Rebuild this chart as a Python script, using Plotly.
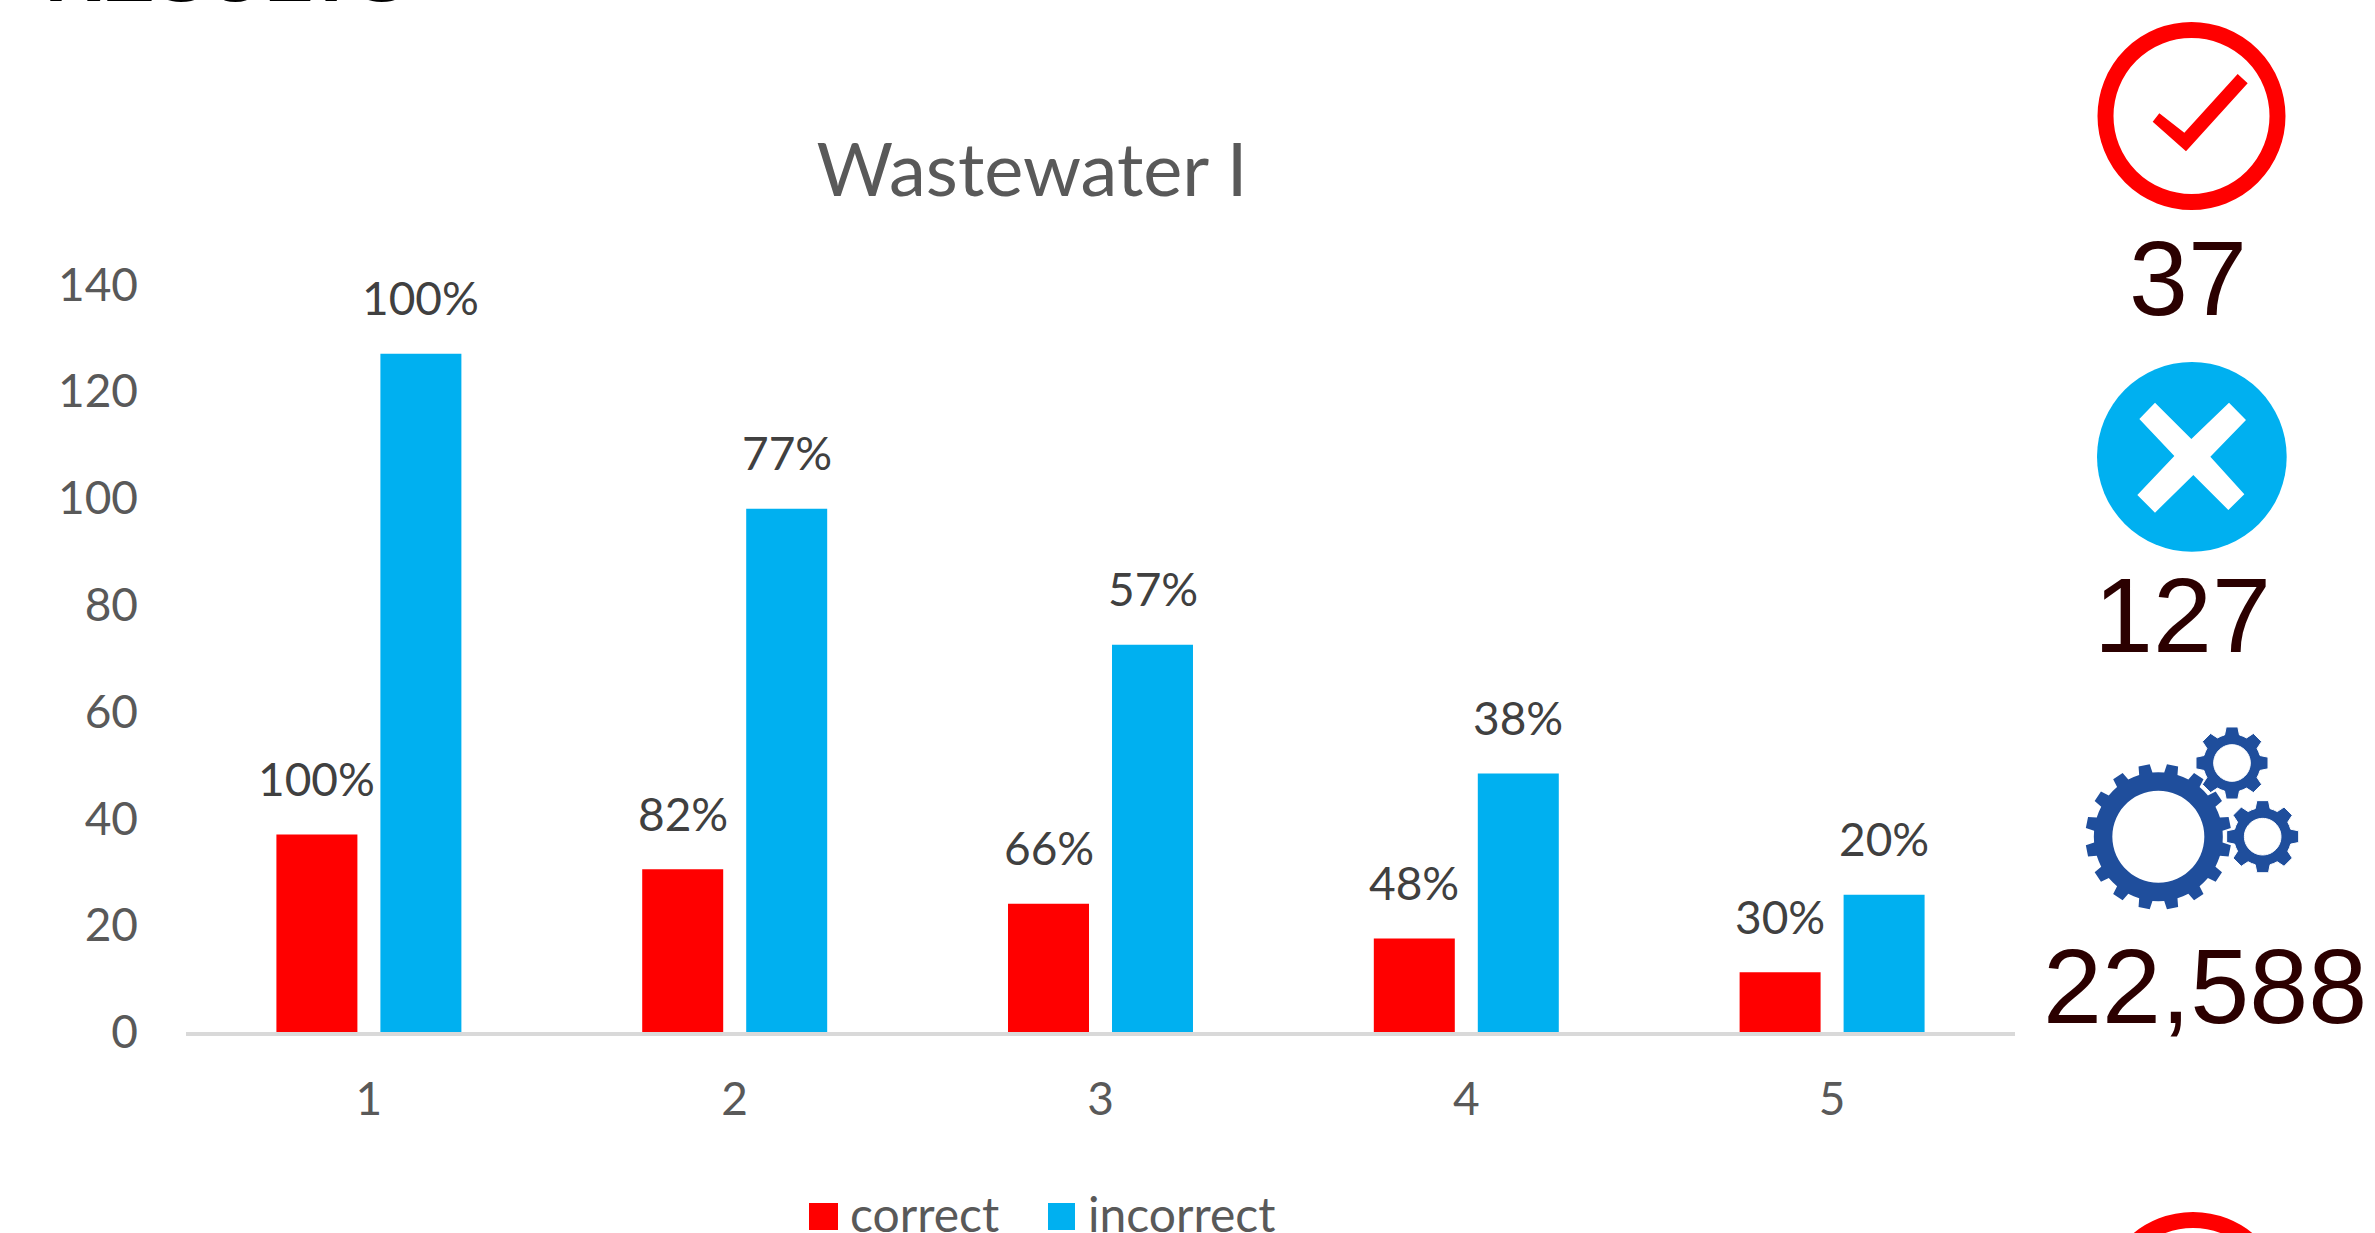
import math
import plotly.graph_objects as go

W, H = 2375, 1233

categories = [1, 2, 3, 4, 5]
correct = [37, 30.5, 24, 17.5, 11.2]
incorrect = [127, 98, 72.5, 48.4, 25.7]
correct_labels = ["100%", "82%", "66%", "48%", "30%"]
incorrect_labels = ["100%", "77%", "57%", "38%", "20%"]
y_ticks = [0, 20, 40, 60, 80, 100, 120, 140]
RED = "#FF0000"
BLUE = "#00B0F0"
GEAR = "#1F4E9C"
DARK = "#2B0000"
GREY = "#595959"
LABEL = "#404040"
CHART_FONT = "Lato"
BIG_FONT = "Liberation Sans"


def px(x):
    return x / W


def py(y):
    return 1 - y / H


def poly(points):
    return "M" + " L".join(f"{px(x):.5f},{py(y):.5f}" for x, y in points) + " Z"


def crop_poly(points, ox, oy, s=3.0):
    return poly([(ox + a / s, oy + b / s) for a, b in points])


def gear_path(cx, cy, r_tip, r_root, r_hole, n, tip_half, base_half, start):
    pts = []
    step = 2 * math.pi / n
    for i in range(n):
        a = start + i * step
        for r, d in [(r_root, -base_half), (r_tip, -tip_half), (r_tip, tip_half), (r_root, base_half), (r_root, step / 2)]:
            pts.append((cx + r * math.sin(a + d), cy - r * math.cos(a + d)))
    hole = [(cx + r_hole * math.cos(t * math.pi / 30), cy + r_hole * math.sin(t * math.pi / 30)) for t in range(60)]
    return poly(pts) + " " + poly(hole)


def ring(cx, cy, r, stroke, color):
    return dict(type="circle", xref="paper", yref="paper", x0=px(cx - r), x1=px(cx + r), y0=py(cy + r), y1=py(cy - r),
                line=dict(color=color, width=stroke), fillcolor="rgba(0,0,0,0)", layer="above")


def path_shape(path, color, line=None):
    return dict(type="path", xref="paper", yref="paper", path=path, fillcolor=color,
                line=dict(color=line or color, width=1 if line else 0), layer="above")


def rect(x0, y0, x1, y1, color):
    return dict(type="rect", xref="paper", yref="paper", x0=px(x0), x1=px(x1), y0=py(y1), y1=py(y0),
                fillcolor=color, line=dict(width=0), layer="below")


check = [(218, 335), (238, 310), (313, 368), (473, 192), (503, 220), (318, 424)]
cross = [(178, 207), (225, 158), (334, 267), (447, 158), (498, 210), (391, 320), (493, 433),
         (445, 480), (340, 375), (225, 488), (172, 435), (283, 318)]

shapes = [
    ring(2191.5, 116, 86, 16, RED),
    path_shape(crop_poly(check, 2080, 10), RED),
    dict(type="circle", xref="paper", yref="paper", x0=px(2097), x1=px(2286.7), y0=py(551.7), y1=py(362),
         fillcolor=BLUE, line=dict(width=0), layer="above"),
    path_shape(crop_poly(cross, 2080, 350), "#FFFFFF"),
    path_shape(gear_path(2070 + 265 / 3, 715 + 365 / 3, 73, 64.5, 46, 16, 0.078, 0.105, math.pi / 16), GEAR),
    path_shape(gear_path(2070 + 486 / 3, 715 + 144 / 3, 36.5, 29, 18.3, 8, 0.16, 0.26, 0), GEAR, "#FFFFFF"),
    path_shape(gear_path(2070 + 578 / 3, 715 + 365 / 3, 36.5, 29, 18.3, 8, 0.16, 0.26, 0), GEAR, "#FFFFFF"),
    ring(2193, 1306, 86, 16, RED),
    rect(809, 1203, 838, 1230, RED),
    rect(1048, 1203, 1075, 1230, BLUE),
]

# bar centre offset from the category centre, in category units
slot = 104 / 365.8
annotations = []
for i, c in enumerate(categories):
    annotations.append(dict(xref="x", yref="y", x=c - slot / 2, y=correct[i], text=correct_labels[i], showarrow=False,
                            yshift=56, yanchor="middle", font=dict(family=CHART_FONT, size=46, color=LABEL)))
    annotations.append(dict(xref="x", yref="y", x=c + slot / 2, y=incorrect[i], text=incorrect_labels[i], showarrow=False,
                            yshift=56, yanchor="middle", font=dict(family=CHART_FONT, size=46, color=LABEL)))

for text, x, y in [("37", 2187.5, 278), ("127", 2182, 615), ("22,588", 2205, 986)]:
    annotations.append(dict(xref="paper", yref="paper", x=px(x), y=py(y), text=text, showarrow=False,
                            xanchor="center", yanchor="middle", font=dict(family=BIG_FONT, size=106, color=DARK)))
annotations.append(dict(xref="paper", yref="paper", x=px(43), y=py(2), text="RESULTS", showarrow=False,
                        xanchor="left", yanchor="bottom", yshift=-18,
                        font=dict(family=BIG_FONT, size=79, weight=700, color="#000000")))

fig = go.Figure()
fig.add_bar(name="correct", x=categories, y=correct, marker=dict(color=RED, line=dict(width=0)))
fig.add_bar(name="incorrect", x=categories, y=incorrect, marker=dict(color=BLUE, line=dict(width=0)))

fig.update_layout(
    width=W, height=H, autosize=False,
    margin=dict(l=0, r=0, t=0, b=0, pad=0, autoexpand=False),
    paper_bgcolor="#FFFFFF", plot_bgcolor="#FFFFFF",
    barmode="group", bargap=0.4314, bargroupgap=0.2212,
    title=dict(text="Wastewater I", xref="container", yref="container", x=px(1032), y=py(170),
               xanchor="center", yanchor="middle", font=dict(family=CHART_FONT, size=74, color=GREY)),
    xaxis=dict(domain=[px(186), px(2015)], range=[0.5, 5.5], tickmode="array", tickvals=categories,
               showgrid=False, zeroline=False, showline=True, linecolor="#D9D9D9", linewidth=4,
               ticks="", ticklabelstandoff=24, tickfont=dict(family=CHART_FONT, size=46, color=GREY)),
    yaxis=dict(domain=[py(1032), py(284.4)], range=[0, 140], tickmode="array", tickvals=y_ticks,
               showgrid=False, zeroline=False, showline=False,
               ticks="", ticklabelstandoff=47, tickfont=dict(family=CHART_FONT, size=46, color=GREY)),
    legend=dict(orientation="h", x=px(809), y=py(1176), xanchor="left", yanchor="top",
                font=dict(family=CHART_FONT, size=48, color=GREY), bgcolor="rgba(0,0,0,0)",
                itemwidth=31, entrywidth=192, entrywidthmode="pixels", itemclick=False, itemdoubleclick=False),
    shapes=shapes,
    annotations=annotations,
)

fig.write_html("out.html", config={"displayModeBar": False},
               post_script="document.body.style.margin='0';document.body.style.overflow='hidden';")
